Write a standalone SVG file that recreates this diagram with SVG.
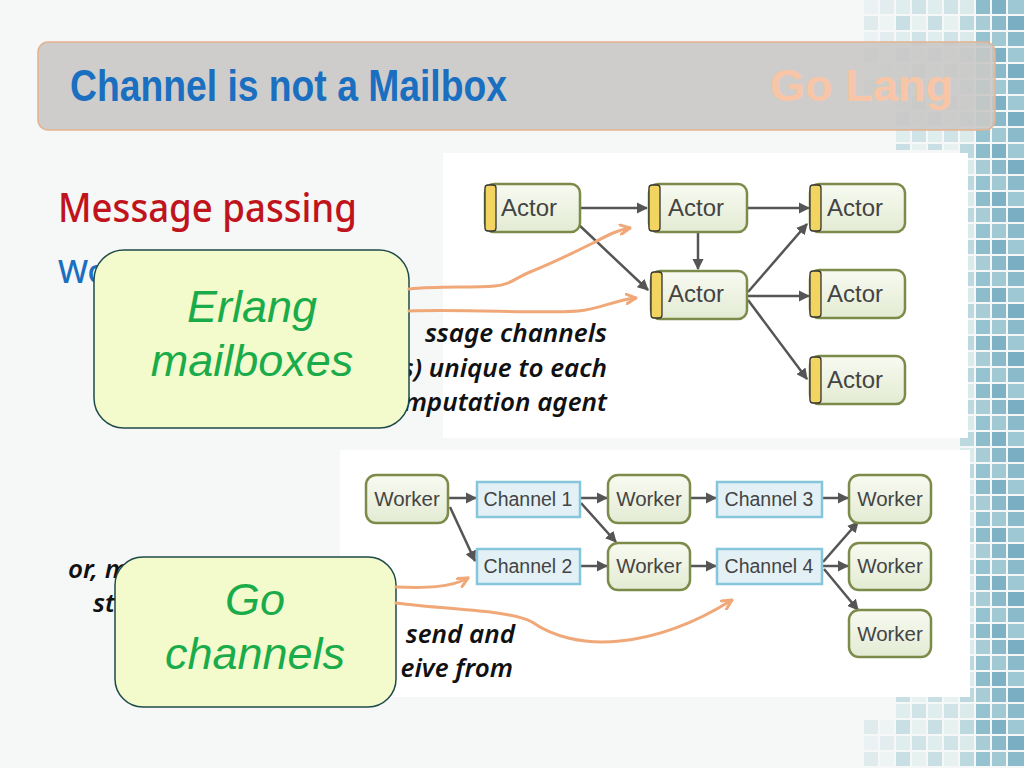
<svg xmlns="http://www.w3.org/2000/svg" width="1024" height="768" viewBox="0 0 1024 768">
<defs>
<style>
.body{font-family:"Noto Sans","Liberation Sans",sans-serif}
.it{font-family:"Noto Sans","Liberation Sans",sans-serif;font-style:italic;font-weight:600;font-size:26px;fill:#111}
.box{fill:url(#gbox);stroke:#7d8b4a;stroke-width:2.5}
.bar{fill:#f2d460;stroke:#333;stroke-width:1.3}
.chan{fill:#e3f1f6;stroke:#85c6dc;stroke-width:2.5}
.lbl{font-family:"Liberation Sans",Arial,sans-serif;fill:#444}
.edge{stroke:#555;stroke-width:2.5;fill:none;marker-end:url(#ah)}
.peach{stroke:#f0a878;stroke-width:3;fill:none;marker-end:url(#ph);stroke-linecap:round}
.call{fill:#f3fbcc;stroke:#1f4a4a;stroke-width:1.5}
.ctext{font-family:"Liberation Sans",Arial,sans-serif;font-style:italic;font-size:45px;fill:#1aab4a;text-anchor:middle}
</style>
<linearGradient id="gbox" x1="0" y1="0" x2="0" y2="1">
<stop offset="0" stop-color="#f8faf1"/><stop offset="1" stop-color="#e3ebd3"/>
</linearGradient>
<marker id="ah" viewBox="0 0 10 10" refX="9" refY="5" markerWidth="4.5" markerHeight="4.5" orient="auto">
<path d="M0,0 L10,5 L0,10 z" fill="#555"/>
</marker>
<marker id="ph" viewBox="0 0 10 10" refX="9" refY="5" markerWidth="12" markerHeight="12" markerUnits="userSpaceOnUse" orient="auto">
<path d="M1,1 L9,5 L1,9" fill="none" stroke="#f0a878" stroke-width="2.5" stroke-linecap="round"/>
</marker>
<pattern id="tiles" x="976" y="0" width="48" height="48" patternUnits="userSpaceOnUse">
<rect x="0" y="0" width="14" height="14" fill="#8dbccb"/>
<rect x="16" y="0" width="14" height="14" fill="#7fb1c4"/>
<rect x="32" y="0" width="16" height="14" fill="#9ec8d3"/>
<rect x="0" y="16" width="14" height="14" fill="#a7ccd6"/>
<rect x="16" y="16" width="14" height="14" fill="#8ab9ca"/>
<rect x="32" y="16" width="16" height="14" fill="#7aaec2"/>
<rect x="0" y="32" width="14" height="14" fill="#96c3d0"/>
<rect x="16" y="32" width="14" height="14" fill="#a0c9d4"/>
<rect x="32" y="32" width="16" height="14" fill="#8bbacb"/>
</pattern>
<pattern id="tilesL" x="976" y="0" width="32" height="32" patternUnits="userSpaceOnUse">
<rect x="0" y="0" width="14" height="14" fill="#c6dfe3"/>
<rect x="16" y="0" width="14" height="14" fill="#dbebec"/>
<rect x="0" y="16" width="14" height="14" fill="#e3efee"/>
<rect x="16" y="16" width="14" height="14" fill="#bcd9df"/>
</pattern>
</defs>

<rect x="0" y="0" width="1024" height="768" fill="#f6f7f7"/>
<g id="mosaic">
<rect x="976" y="0" width="48" height="768" fill="url(#tiles)"/>
<rect x="960" y="0" width="16" height="768" fill="url(#tilesL)"/>
<rect x="896" y="0" width="64" height="150" fill="url(#tilesL)" opacity="0.8"/>
<rect x="864" y="0" width="32" height="100" fill="url(#tilesL)" opacity="0.4"/>
<rect x="896" y="696" width="64" height="72" fill="url(#tilesL)" opacity="0.8"/>
<rect x="864" y="720" width="32" height="48" fill="url(#tilesL)" opacity="0.4"/>
</g>

<g id="title">
<rect x="38" y="42" width="957" height="88" rx="10" fill="#c8c7c5" fill-opacity="0.88" stroke="#e3b390" stroke-width="1.5"/>
<text x="70" y="101" font-family="Liberation Sans Narrow,Liberation Sans,sans-serif" font-weight="bold" font-size="45" fill="#1a6fc0" textLength="437" lengthAdjust="spacingAndGlyphs">Channel is not a Mailbox</text>
<text x="770" y="101" font-family="Liberation Sans Narrow,Liberation Sans,sans-serif" font-weight="bold" font-size="45" fill="#f8c6a6" textLength="183" lengthAdjust="spacingAndGlyphs">Go Lang</text>
</g>

<text class="body" x="58" y="222" font-size="40" font-weight="500" fill="#c0141c" textLength="299" lengthAdjust="spacingAndGlyphs">Message passing</text>
<text class="body" x="58" y="283" font-size="32" font-weight="500" fill="#1a6fc0">Wo</text>

<rect id="actorPanel" x="443" y="153" width="525" height="285" fill="#ffffff"/>
<rect id="workerPanel" x="340" y="450" width="630" height="247" fill="#ffffff"/>

<text class="it" x="607" y="342" text-anchor="end">ssage channels</text>
<text class="it" x="607" y="377" text-anchor="end">s) unique to each</text>
<text class="it" x="607" y="411" text-anchor="end">mputation agent</text>
<text class="it" x="68" y="578">or, m</text>
<text class="it" x="93" y="612">st</text>
<text class="it" x="515" y="643" text-anchor="end">send and</text>
<text class="it" x="513" y="677" text-anchor="end">eive from</text>

<g id="connectors">
<line class="edge" x1="581" y1="208" x2="647" y2="208"/>
<line class="edge" x1="748" y1="208" x2="809" y2="208"/>
<line class="edge" x1="578" y1="224" x2="648" y2="290"/>
<line class="edge" x1="698" y1="233" x2="698" y2="269"/>
<line class="edge" x1="748" y1="292" x2="807" y2="224"/>
<line class="edge" x1="748" y1="296" x2="809" y2="296"/>
<line class="edge" x1="748" y1="300" x2="807" y2="379"/>

<line class="edge" x1="449" y1="498" x2="476" y2="498"/>
<line class="edge" x1="450" y1="507" x2="475" y2="561"/>
<line class="edge" x1="581" y1="498" x2="607" y2="498"/>
<line class="edge" x1="581" y1="503" x2="616" y2="542"/>
<line class="edge" x1="691" y1="498" x2="716" y2="498"/>
<line class="edge" x1="823" y1="498" x2="848" y2="498"/>
<line class="edge" x1="581" y1="566" x2="607" y2="566"/>
<line class="edge" x1="691" y1="566" x2="716" y2="566"/>
<line class="edge" x1="823" y1="562" x2="858" y2="522"/>
<line class="edge" x1="823" y1="566" x2="848" y2="566"/>
<line class="edge" x1="824" y1="569" x2="858" y2="610"/>
</g>

<g id="actor1"><rect class="box" x="485" y="184" width="95" height="48" rx="9"/><rect class="bar" x="485" y="185" width="11" height="46" rx="3"/><text class="lbl" x="501" y="216" font-size="24">Actor</text></g>
<g id="actor2"><rect class="box" x="649" y="184" width="98" height="48" rx="9"/><rect class="bar" x="649" y="185" width="11" height="46" rx="3"/><text class="lbl" x="668" y="216" font-size="24">Actor</text></g>
<g id="actor3"><rect class="box" x="810" y="184" width="95" height="48" rx="9"/><rect class="bar" x="810" y="185" width="11" height="46" rx="3"/><text class="lbl" x="827" y="216" font-size="24">Actor</text></g>
<g id="actor4"><rect class="box" x="651" y="271" width="96" height="48" rx="9"/><rect class="bar" x="651" y="272" width="11" height="46" rx="3"/><text class="lbl" x="668" y="302" font-size="24">Actor</text></g>
<g id="actor5"><rect class="box" x="810" y="270" width="95" height="48" rx="9"/><rect class="bar" x="810" y="271" width="11" height="46" rx="3"/><text class="lbl" x="827" y="302" font-size="24">Actor</text></g>
<g id="actor6"><rect class="box" x="810" y="356" width="95" height="48" rx="9"/><rect class="bar" x="810" y="357" width="11" height="46" rx="3"/><text class="lbl" x="827" y="388" font-size="24">Actor</text></g>

<g id="worker1"><rect class="box" x="366" y="475" width="82" height="48" rx="10"/><text class="lbl" x="407" y="506" font-size="20.5" text-anchor="middle">Worker</text></g>
<g id="channel1"><rect class="chan" x="477" y="482" width="103" height="35"/><text class="lbl" x="528" y="506" font-size="19.5" text-anchor="middle">Channel 1</text></g>
<g id="worker2"><rect class="box" x="608" y="475" width="82" height="48" rx="10"/><text class="lbl" x="649" y="506" font-size="20.5" text-anchor="middle">Worker</text></g>
<g id="channel3"><rect class="chan" x="717" y="482" width="105" height="35"/><text class="lbl" x="769" y="506" font-size="19.5" text-anchor="middle">Channel 3</text></g>
<g id="worker3"><rect class="box" x="849" y="475" width="82" height="48" rx="10"/><text class="lbl" x="890" y="506" font-size="20.5" text-anchor="middle">Worker</text></g>
<g id="channel2"><rect class="chan" x="477" y="549" width="103" height="35"/><text class="lbl" x="528" y="573" font-size="19.5" text-anchor="middle">Channel 2</text></g>
<g id="worker4"><rect class="box" x="608" y="543" width="82" height="47" rx="10"/><text class="lbl" x="649" y="573" font-size="20.5" text-anchor="middle">Worker</text></g>
<g id="channel4"><rect class="chan" x="717" y="549" width="105" height="35"/><text class="lbl" x="769" y="573" font-size="19.5" text-anchor="middle">Channel 4</text></g>
<g id="worker5"><rect class="box" x="849" y="543" width="82" height="47" rx="10"/><text class="lbl" x="890" y="573" font-size="20.5" text-anchor="middle">Worker</text></g>
<g id="worker6"><rect class="box" x="849" y="610" width="82" height="47" rx="10"/><text class="lbl" x="890" y="641" font-size="20.5" text-anchor="middle">Worker</text></g>

<g id="callout-erlang">
<rect class="call" x="94" y="250" width="315" height="178" rx="30"/>
<text class="ctext" x="252" y="322">Erlang</text>
<text class="ctext" x="252" y="376">mailboxes</text>
</g>
<g id="callout-go">
<rect class="call" x="115" y="557" width="281" height="150" rx="28"/>
<text class="ctext" x="255" y="615">Go</text>
<text class="ctext" x="255" y="669">channels</text>
</g>

<g id="pointers">
<path class="peach" d="M409,289 C440,286 470,288 495,286 C510,285 515,278 530,272 C555,262 575,252 595,242 C610,234 618,230 630,228"/>
<path class="peach" d="M409,311 C470,309 540,314 578,311 C600,309 615,300 636,298"/>
<path class="peach" d="M396,587 C425,588 450,588 468,578"/>
<path class="peach" d="M396,603 C450,610 510,610 532,622 C552,636 582,645 620,641 C660,637 700,620 732,600"/>
</g>
</svg>
